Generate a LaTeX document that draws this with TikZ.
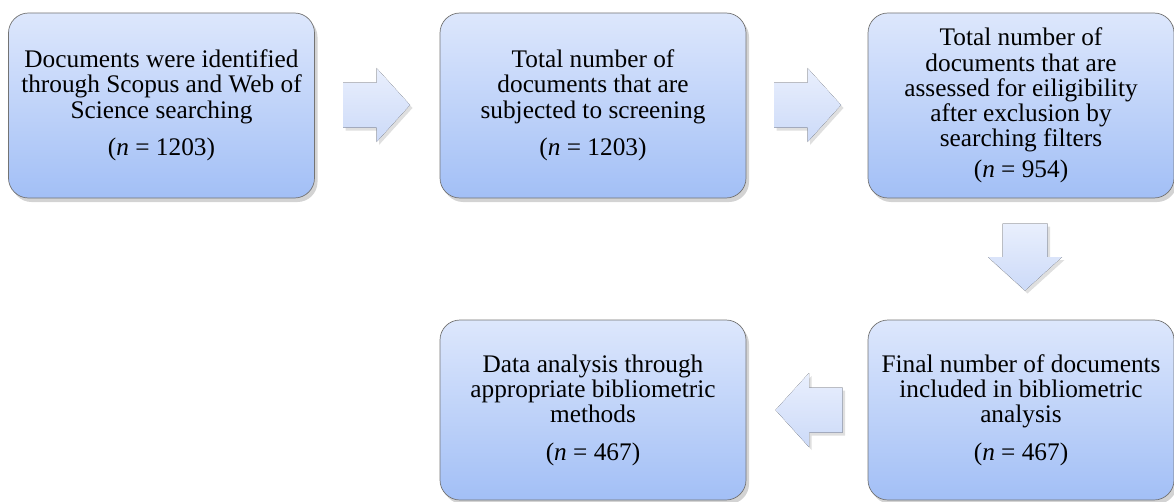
\documentclass[tikz,border=0pt]{standalone}
\usepackage{fontspec}
\setmainfont{Liberation Serif}
\usepackage{tikz}
\usetikzlibrary{shadows}
\definecolor{boxtop}{HTML}{DDE7FC}
\definecolor{boxbot}{HTML}{A2BFF6}
\definecolor{arrtop}{HTML}{E9EFFD}
\definecolor{arrbot}{HTML}{CCDAF8}
\newcommand{\nn}[1]{(\textit{n} = #1)}
\newcommand{\mkarrow}[3]{% #1: x, #2: y, #3: orientation
	\fill[arrowfill,shift={(#1,#2)},#3] (-0.67,-0.45) -- (0,-0.45) -- (0,-0.74) -- (0.67,0) -- (0,0.74) -- (0,0.45) -- (-0.67,0.45) -- cycle;
}

\begin{document}
\begin{tikzpicture}[
	box/.style={draw=black!55,thin,rounded corners=0.4cm,top color=boxtop,bottom color=boxbot,
		minimum width=6.12cm,minimum height=3.7cm,align=center,font=\fontsize{14.4}{14.3}\selectfont,
		drop shadow={shadow xshift=0.06cm,shadow yshift=-0.08cm,opacity=0.35}},
	arrowfill/.style={top color=arrtop,bottom color=arrbot,
		drop shadow={shadow xshift=0.05cm,shadow yshift=-0.06cm,opacity=0.25}}]
	% Fix the margins
	\useasboundingbox (0,0) rectangle (23.48,-10.02);
	
	% Draw the boxes
	\node[box] (ident) at (3.23,-2.11) {Documents were identified\\through Scopus and Web of\\Science searching\\[0.25cm]\nn{1203}};
	\node[box] (screen) at (11.86,-2.11) {Total number of\\documents that are\\subjected to screening\\[0.25cm]\nn{1203}};
	\node[box] (elig) at (20.42,-2.11) {Total number of\\documents that are\\assessed for eiligibility\\after exclusion by\\searching filters\\[0.12cm]\nn{954}};
	\node[box,minimum height=3.6cm] (incl) at (20.42,-8.2) {Final number of documents\\included in bibliometric\\analysis\\[0.25cm]\nn{467}};
	\node[box,minimum height=3.6cm] (anal) at (11.86,-8.2) {Data analysis through\\appropriate bibliometric\\methods\\[0.25cm]\nn{467}};
	
	% Block arrows between the boxes
	\mkarrow{7.53}{-2.1}{}
	\mkarrow{16.15}{-2.1}{}
	\mkarrow{20.5}{-5.14}{rotate=-90}
	\mkarrow{16.18}{-8.2}{xscale=-1}
\end{tikzpicture}
\end{document}
